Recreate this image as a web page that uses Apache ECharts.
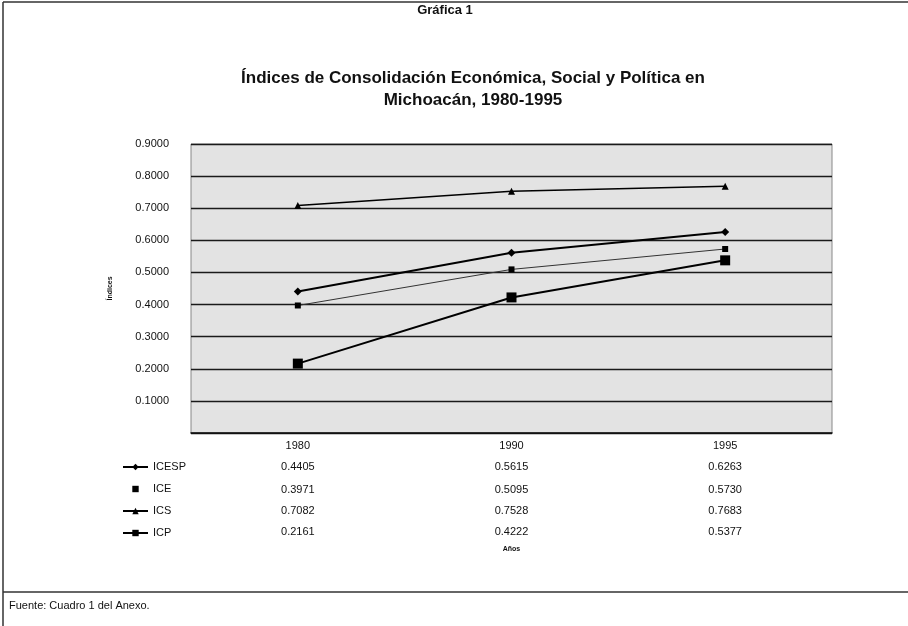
<!DOCTYPE html>
<html>
<head>
<meta charset="utf-8">
<script src="https://cdn.jsdelivr.net/npm/echarts@6/dist/echarts.min.js"></script>
<style>
    html, body { margin: 0; padding: 0; background: #fff; }
    #chart { width: 908px; height: 626px; }
</style>
</head>
<body>
<div id="chart"></div>
<script>
// datos del Cuadro 1
var years = ['1980', '1990', '1995'];
var icesp = [0.4405, 0.5615, 0.6263];
var ice = [0.3971, 0.5095, 0.5730];
var ics = [0.7082, 0.7528, 0.7683];
var icp = [0.2161, 0.4222, 0.5377];
var seriesNames = ['ICESP', 'ICE', 'ICS', 'ICP'];
var yTicks = { min: 0, max: 0.9, step: 0.1 };

var font = '"Liberation Sans", Arial, sans-serif';
var rows = [icesp, ice, ics, icp];
var rowOffsets = [28, 51, 72, 93];

// ejes de la tabla de datos: uno por serie, debajo del eje de años
var tableAxes = rows.map(function (vals, i) {
    var ax = {
        type: 'category',
        data: years,
        position: 'bottom',
        offset: rowOffsets[i],
        axisLine: { show: false },
        axisTick: { show: false },
        axisLabel: {
            margin: 0,
            color: '#111',
            fontSize: 11,
            fontFamily: font,
            formatter: function (v, idx) {
                return vals[idx].toFixed(4);
            }
        }
    };
    if (i === rows.length - 1) {
        ax.name = 'Años';
        ax.nameLocation = 'middle';
        ax.nameGap = 20;
        ax.nameTextStyle = { fontSize: 7, fontWeight: 'bold', color: '#111', fontFamily: font };
    }
    return ax;
});

var chart = echarts.init(document.getElementById('chart'));
chart.setOption({
    backgroundColor: '#fff',
    animation: false,
    title: [{
        text: 'Gráfica 1',
        left: 440,
        top: -1,
        textAlign: 'center',
        textStyle: { fontSize: 13, fontWeight: 'bold', color: '#111', fontFamily: font }
    }, {
        text: 'Índices de Consolidación Económica, Social y Política en\nMichoacán, 1980-1995',
        left: 468,
        top: 62,
        textAlign: 'center',
        textStyle: { fontSize: 17, fontWeight: 'bold', color: '#111', lineHeight: 22, fontFamily: font }
    }],
    legend: {
        orient: 'vertical',
        left: 122,
        top: 460,
        padding: 0,
        itemGap: 8,
        itemWidth: 25,
        itemHeight: 8,
        data: [
            { name: 'ICESP' },
            { name: 'ICE', lineStyle: { opacity: 0 } },
            { name: 'ICS' },
            { name: 'ICP' }
        ],
        textStyle: { fontSize: 11, color: '#111', lineHeight: 14, fontFamily: font }
    },
    grid: {
        left: 191,
        right: 76,
        top: 144,
        bottom: 193,
        show: true,
        backgroundColor: '#e3e3e3',
        borderColor: '#888',
        borderWidth: 1
    },
    xAxis: [{
        type: 'category',
        data: years,
        boundaryGap: true,
        axisLine: { lineStyle: { color: '#111', width: 1.5 } },
        axisTick: { show: false },
        axisLabel: { margin: 7, fontSize: 11, color: '#111', fontFamily: font }
    }].concat(tableAxes),
    yAxis: {
        type: 'value',
        min: yTicks.min,
        max: yTicks.max,
        interval: yTicks.step,
        name: 'Índices',
        nameLocation: 'middle',
        nameGap: 77,
        nameTextStyle: { fontSize: 7, fontWeight: 'bold', color: '#111', fontFamily: font },
        axisLine: { show: false },
        axisTick: { show: false },
        axisLabel: {
            margin: 22,
            fontSize: 11,
            color: '#111',
            fontFamily: font,
            formatter: function (v) {
                return v === 0 ? '' : v.toFixed(4);
            }
        },
        splitLine: { lineStyle: { color: '#1a1a1a', width: 1.4 } }
    },
    series: [{
        name: 'ICESP',
        type: 'line',
        data: icesp,
        symbol: 'diamond',
        symbolSize: 8,
        lineStyle: { color: '#000', width: 2 },
        itemStyle: { color: '#000' }
    }, {
        name: 'ICE',
        type: 'line',
        data: ice,
        symbol: 'rect',
        symbolSize: 6,
        lineStyle: { color: '#333', width: 1 },
        itemStyle: { color: '#000' }
    }, {
        name: 'ICS',
        type: 'line',
        data: ics,
        symbol: 'triangle',
        symbolSize: 7,
        lineStyle: { color: '#000', width: 1.5 },
        itemStyle: { color: '#000' }
    }, {
        name: 'ICP',
        type: 'line',
        data: icp,
        symbol: 'rect',
        symbolSize: 10,
        lineStyle: { color: '#000', width: 2 },
        itemStyle: { color: '#000' }
    }],
    graphic: [{
        type: 'line',
        shape: { x1: 3, y1: 2, x2: 908, y2: 2 },
        style: { stroke: '#333', lineWidth: 1.5 }
    }, {
        type: 'line',
        shape: { x1: 3, y1: 2, x2: 3, y2: 626 },
        style: { stroke: '#333', lineWidth: 1.5 }
    }, {
        type: 'line',
        shape: { x1: 3, y1: 592, x2: 908, y2: 592 },
        style: { stroke: '#333', lineWidth: 1.5 }
    }, {
        type: 'text',
        left: 9,
        top: 600,
        style: { text: 'Fuente: Cuadro 1 del Anexo.', fontSize: 11, fill: '#111', fontFamily: font }
    }]
});
</script>
</body>
</html>
